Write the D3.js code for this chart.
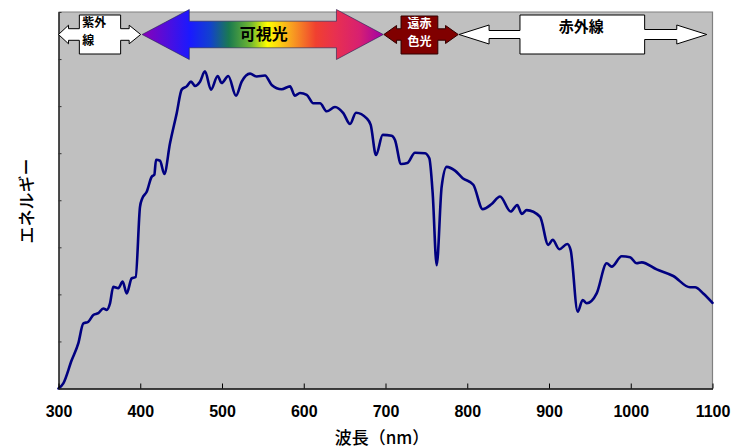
<!DOCTYPE html>
<html>
<head>
<meta charset="utf-8">
<script src="https://cdn.jsdelivr.net/npm/d3@7"></script>
<style>
  html, body { margin: 0; padding: 0; background: #fff; }
  svg { display: block; }
</style>
</head>
<body>
<svg id="chart" width="735" height="448"></svg>
<script>
// Solar irradiance spectrum (relative energy) by wavelength in nm
const wavelength = [300, 305.9, 316.1, 324.2, 330.3, 336.5, 342.6, 348.7, 354.8, 359.0,
  363.0, 367.0, 373.1, 378.5, 383.4, 389.5, 394.4, 399.7, 402.5, 407.9,
  414.0, 417.2, 419.3, 424.2, 429.4, 436.4, 444.6, 450.7, 456.8, 462.1,
  467.0, 473.1, 479.2, 486.5, 494.7, 499.6, 507.7, 517.1, 524.1, 534.3,
  542.4, 552.6, 560.8, 573.0, 583.2, 589.3, 595.4, 603.6, 611.7, 619.9,
  628.1, 638.2, 648.4, 656.6, 663.9, 677.0, 681.9, 688.4, 696.6, 707.6,
  711.6, 719.0, 726.7, 736.1, 748.3, 753.6, 757.7, 762.6, 768.7, 774.9,
  785.0, 794.4, 807.4, 818.9, 829.9, 840.1, 853.1, 861.2, 866.6, 872.7,
  889.0, 899.1, 904.5, 912.6, 922.4, 926.5, 935.1, 941.2, 946.1, 958.3,
  970.6, 976.7, 988.9, 999.1, 1007.3, 1013.4, 1031.7, 1052.0, 1072.5, 1078.6,
  1088.7, 1100];
const energy = [0, 0.11, 0.60, 0.96, 1.38, 1.42, 1.56, 1.60, 1.70, 1.67,
  1.81, 2.16, 2.13, 2.27, 2.02, 2.34, 2.37, 3.86, 4.04, 4.18,
  4.50, 4.54, 4.86, 4.84, 4.56, 5.21, 5.85, 6.35, 6.42, 6.52,
  6.43, 6.52, 6.74, 6.35, 6.64, 6.49, 6.64, 6.22, 6.52, 6.69,
  6.63, 6.65, 6.45, 6.36, 6.42, 6.22, 6.28, 6.24, 6.06, 6.06,
  5.89, 5.98, 5.85, 5.62, 5.86, 5.74, 5.60, 4.96, 5.39, 5.37,
  5.28, 4.77, 4.79, 5.01, 5.00, 4.89, 4.15, 2.62, 4.29, 4.71,
  4.63, 4.47, 4.33, 3.81, 3.92, 4.08, 3.76, 3.90, 3.71, 3.79,
  3.65, 3.05, 3.16, 2.96, 3.07, 2.94, 1.63, 1.88, 1.81, 2.02,
  2.66, 2.59, 2.81, 2.79, 2.66, 2.68, 2.53, 2.39, 2.15, 2.15,
  2.02, 1.82];

// Axis ticks
const xTicks = [300, 400, 500, 600, 700, 800, 900, 1000, 1100];
const yTicks = [0, 1, 2, 3, 4, 5, 6, 7, 8];

// Spectral bands drawn as arrows across the top (wavelength ranges in nm)
const uvBand = {label: ["紫外", "線"], from: 300, to: 400.5, boxFrom: 325.5, boxTo: 376};
const visBand = {label: "可視光", from: 402.3, to: 697.3, headFrom: 460, headTo: 640};
const farRedBand = {label: ["遠赤", "色光"], from: 698, to: 789, boxFrom: 719, boxTo: 764};
const irBand = {label: "赤外線", from: 790, to: 1093, boxFrom: 864.5, boxTo: 1017};

// Colour stops of the visible-light arrow
const visStops = [
  [0, "#8a00b8"], [0.2, "#1a1aff"], [0.28, "#1240d0"], [0.36, "#1a7a50"],
  [0.45, "#70b830"], [0.52, "#ffff00"], [0.62, "#f8a020"], [0.72, "#f04030"],
  [0.8, "#e83050"], [0.9, "#d82070"], [1, "#a000a8"]
];

const svg = d3.select("#chart");
const m = {left: 58.5, right: 712.5, top: 12, bottom: 388.5};

const x = d3.scaleLinear().domain([300, 1100]).range([m.left, m.right]);
const y = d3.scaleLinear().domain([0, 8]).range([m.bottom, m.top]);

// Plot background
svg.append("rect")
  .attr("x", m.left).attr("y", m.top)
  .attr("width", m.right - m.left).attr("height", m.bottom - m.top)
  .attr("fill", "#c0c0c0");

// Top and right frame lines
svg.append("path")
  .attr("d", `M${m.left},${m.top}H${m.right}V${m.bottom}`)
  .attr("fill", "none").attr("stroke", "#808080").attr("stroke-width", 1.2);

// Spectrum curve
const pts = wavelength.map((w, i) => [w, energy[i]]);
const line = d3.line().x(d => x(d[0])).y(d => y(d[1])).curve(d3.curveMonotoneX);
svg.append("path")
  .datum(pts)
  .attr("d", line)
  .attr("fill", "none")
  .attr("stroke", "#000080")
  .attr("stroke-width", 2.6)
  .attr("stroke-linejoin", "round")
  .attr("stroke-linecap", "round");

// X axis (ticks pointing into the plot)
const xAxis = svg.append("g")
  .attr("transform", `translate(0,${m.bottom})`)
  .call(d3.axisBottom(x).tickValues(xTicks).tickFormat(d3.format("d"))
    .tickSizeInner(-5).tickSizeOuter(0).tickPadding(17));
xAxis.select(".domain").attr("stroke", "#000").attr("stroke-width", 1.3);
xAxis.selectAll(".tick line").attr("stroke", "#000");
xAxis.selectAll("text")
  .attr("font-family", "Liberation Sans, Arial, sans-serif")
  .attr("font-size", 16).attr("font-weight", "bold").attr("fill", "#000");

// Y axis (unlabelled ticks)
const yAxis = svg.append("g")
  .attr("transform", `translate(${m.left},0)`)
  .call(d3.axisLeft(y).tickValues(yTicks).tickSizeInner(-3).tickSizeOuter(0).tickFormat(""));
yAxis.select(".domain").attr("stroke", "#000").attr("stroke-width", 1.3);
yAxis.selectAll(".tick line").attr("stroke", "#333");

// Axis titles
svg.append("text")
  .attr("x", 382).attr("y", 444)
  .attr("text-anchor", "middle")
  .attr("font-family", "Noto Sans CJK JP, sans-serif")
  .attr("font-size", 17).attr("font-weight", 500)
  .text("波長（nm）");

svg.append("text")
  .attr("transform", "translate(33,201) rotate(-90)")
  .attr("text-anchor", "middle")
  .attr("font-family", "Noto Sans CJK JP, sans-serif")
  .attr("font-size", 17).attr("font-weight", 500)
  .text("エネルギー");

// ---- Band arrows ----
const yc = 34.5;
const jp = "Noto Sans CJK JP, sans-serif";

// Double-headed arrow with a label box in the middle
function boxArrow(band, o) {
  const xl = x(band.from), xr = x(band.to);
  const bl = x(band.boxFrom), br = x(band.boxTo);
  const p = [
    [xl, yc], [xl + o.hwL, yc - o.hh], [xl + o.hwL, yc - o.shL], [bl, yc - o.shL],
    [bl, o.top], [br, o.top], [br, yc - o.shR], [xr - o.hwR, yc - o.shR],
    [xr - o.hwR, yc - o.hh], [xr, yc], [xr - o.hwR, yc + o.hh], [xr - o.hwR, yc + o.shR],
    [br, yc + o.shR], [br, o.bottom], [bl, o.bottom], [bl, yc + o.shL],
    [xl + o.hwL, yc + o.shL], [xl + o.hwL, yc + o.hh]
  ];
  svg.append("path")
    .attr("d", "M" + p.map(q => q.join(",")).join("L") + "Z")
    .attr("fill", o.fill).attr("stroke", o.stroke).attr("stroke-width", 1)
    .attr("stroke-linejoin", "miter");
}

// Ultraviolet
boxArrow(uvBand, {hwL: 10, hwR: 11.5, hh: 9.3, shL: 5.8, shR: 5.8, top: 15, bottom: 54,
  fill: "#fff", stroke: "#000"});
svg.append("text").attr("x", x(uvBand.boxFrom) + 3).attr("y", 27)
  .attr("font-family", jp).attr("font-size", 12).attr("font-weight", "bold")
  .text(uvBand.label[0]);
svg.append("text").attr("x", x(uvBand.boxFrom) + 3).attr("y", 45)
  .attr("font-family", jp).attr("font-size", 12).attr("font-weight", "bold")
  .text(uvBand.label[1]);

// Visible light (gradient arrow)
const defs = svg.append("defs");
const grad = defs.append("linearGradient")
  .attr("id", "visGrad")
  .attr("gradientUnits", "userSpaceOnUse")
  .attr("x1", x(visBand.from)).attr("x2", x(visBand.to))
  .attr("y1", 0).attr("y2", 0);
grad.selectAll("stop").data(visStops).join("stop")
  .attr("offset", d => d[0]).attr("stop-color", d => d[1]);

{
  const xl = x(visBand.from), xr = x(visBand.to);
  const hl = x(visBand.headFrom), hr = x(visBand.headTo);
  const hh = 25, sh = 13.3;
  const p = [[xl, yc], [hl, yc - hh], [hl, yc - sh], [hr, yc - sh], [hr, yc - hh], [xr, yc],
    [hr, yc + hh], [hr, yc + sh], [hl, yc + sh], [hl, yc + hh]];
  svg.append("path")
    .attr("d", "M" + p.map(q => q.join(",")).join("L") + "Z")
    .attr("fill", "url(#visGrad)").attr("stroke", "#202050").attr("stroke-width", 0.6);
  svg.append("text").attr("x", (xl + xr) / 2 + 1).attr("y", 39.5)
    .attr("text-anchor", "middle")
    .attr("font-family", jp).attr("font-size", 16).attr("font-weight", "bold")
    .text(visBand.label);
}

// Far red
boxArrow(farRedBand, {hwL: 12.7, hwR: 12.7, hh: 9, shL: 5.7, shR: 5.7, top: 16, bottom: 54,
  fill: "#800000", stroke: "#300000"});
svg.append("text").attr("x", (x(farRedBand.boxFrom) + x(farRedBand.boxTo)) / 2).attr("y", 28)
  .attr("text-anchor", "middle").attr("fill", "#fff")
  .attr("font-family", jp).attr("font-size", 12).attr("font-weight", "bold")
  .text(farRedBand.label[0]);
svg.append("text").attr("x", (x(farRedBand.boxFrom) + x(farRedBand.boxTo)) / 2).attr("y", 46)
  .attr("text-anchor", "middle").attr("fill", "#fff")
  .attr("font-family", jp).attr("font-size", 12).attr("font-weight", "bold")
  .text(farRedBand.label[1]);

// Infrared
boxArrow(irBand, {hwL: 30, hwR: 30, hh: 9.5, shL: 4, shR: 5, top: 15, bottom: 54,
  fill: "#fff", stroke: "#000"});
svg.append("text").attr("x", (x(irBand.boxFrom) + x(irBand.boxTo)) / 2 - 1).attr("y", 32)
  .attr("text-anchor", "middle")
  .attr("font-family", jp).attr("font-size", 15).attr("font-weight", "bold")
  .text(irBand.label);
</script>
</body>
</html>
